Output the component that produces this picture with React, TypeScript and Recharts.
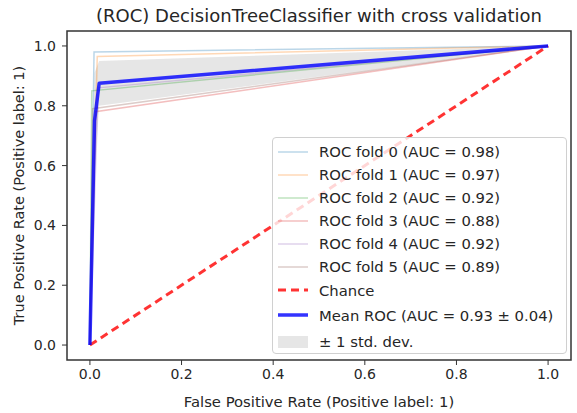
import React from 'react';
import { ComposedChart, Line, Area, XAxis, YAxis, ReferenceArea, Legend, Label } from 'recharts';

const FONT = '"DejaVu Sans", sans-serif';

const titleText = '(ROC) DecisionTreeClassifier with cross validation';
const xLabelText = 'False Positive Rate (Positive label: 1)';
const yLabelText = 'True Positive Rate (Positive label: 1)';
const xTicks = [0, 0.2, 0.4, 0.6, 0.8, 1.0];
const yTicks = [0, 0.2, 0.4, 0.6, 0.8, 1.0];

const foldNames = [
  'ROC fold 0 (AUC = 0.98)',
  'ROC fold 1 (AUC = 0.97)',
  'ROC fold 2 (AUC = 0.92)',
  'ROC fold 3 (AUC = 0.88)',
  'ROC fold 4 (AUC = 0.92)',
  'ROC fold 5 (AUC = 0.89)',
];
const foldColors = ['#1f77b4', '#ff7f0e', '#2ca02c', '#d62728', '#9467bd', '#8c564b'];
// knee point of each fold's ROC curve (fpr, tpr)
const foldFpr = [0.009, 0.016, 0.004, 0.012, 0.018, 0.006];
const foldTpr = [0.98, 0.965, 0.85, 0.78, 0.86, 0.79];

const chanceX = [0, 1];
const chanceY = [0, 1];

const meanFpr = [0, 0.0101, 0.0202, 1];
const meanTpr = [0, 0.75, 0.875, 1];
const bandLow = [0, 0.57, 0.80, 1];
const bandHigh = [0, 0.91, 0.95, 1];

const chanceName = 'Chance';
const meanName = 'Mean ROC (AUC = 0.93 \u00b1 0.04)';
const bandName = '\u00b1 1 std. dev.';

const foldData = foldFpr.map((f, i) => [
  { x: 0, y: 0 },
  { x: f, y: foldTpr[i] },
  { x: 1, y: 1 },
]);
const chanceData = chanceX.map((x, i) => ({ x, y: chanceY[i] }));
const meanData = meanFpr.map((x, i) => ({ x, y: meanTpr[i] }));
const bandData = meanFpr.map((x, i) => ({ x, band: [bandLow[i], bandHigh[i]] }));

const fmt = (v: number) => v.toFixed(1);

type Entry = { kind: 'line' | 'dash' | 'patch'; color: string; opacity: number; width: number; label: string };

const legendEntries: Entry[] = [
  ...foldNames.map((n, i) => ({ kind: 'line' as const, color: foldColors[i], opacity: 0.3, width: 1.5, label: n })),
  { kind: 'dash', color: '#ff0000', opacity: 0.8, width: 3, label: chanceName },
  { kind: 'line', color: '#0000ff', opacity: 0.8, width: 3.5, label: meanName },
  { kind: 'patch', color: '#808080', opacity: 0.2, width: 0, label: bandName },
];

const rowHeights = [23, 23, 23, 23, 23, 23, 24, 26, 27];

const renderLegend = () => (
  <div
    style={{
      width: 295,
      height: 217,
      boxSizing: 'border-box',
      border: '1px solid #d0d0d0',
      borderRadius: 4,
      background: 'rgba(255,255,255,0.8)',
      paddingTop: 2,
      fontFamily: FONT,
      fontSize: 14.8,
      color: '#262626',
    }}
  >
    {legendEntries.map((e, i) => (
      <div key={i} style={{ display: 'flex', alignItems: 'center', height: rowHeights[i] }}>
        <svg width={46} height={16} style={{ flex: 'none' }}>
          {e.kind === 'patch' ? (
            <rect x={5} y={2} width={30} height={12} fill={e.color} fillOpacity={e.opacity} />
          ) : (
            <line
              x1={5}
              x2={35}
              y1={8}
              y2={8}
              stroke={e.color}
              strokeOpacity={e.opacity}
              strokeWidth={e.width}
              strokeDasharray={e.kind === 'dash' ? '8 5' : undefined}
            />
          )}
        </svg>
        <span style={{ whiteSpace: 'nowrap' }}>{e.label}</span>
      </div>
    ))}
  </div>
);

const YLabel = (props: any) => {
  const vb = props.viewBox || {};
  const cy = vb.y + vb.height / 2;
  const cx = 19;
  return (
    <text
      x={cx}
      y={cy}
      transform={`rotate(-90, ${cx}, ${cy})`}
      textAnchor="middle"
      dominantBaseline="central"
      fontSize={14.5}
      fontFamily={FONT}
      fill="#262626"
    >
      {yLabelText}
    </text>
  );
};

export default function App() {
  return (
    <div style={{ position: 'absolute', left: 0, top: 0, width: 577, height: 413, background: '#fff', fontFamily: FONT }}>
      <div
        style={{
          position: 'absolute',
          left: 67,
          width: 504,
          top: 5,
          textAlign: 'center',
          fontSize: 18,
          color: '#262626',
          whiteSpace: 'nowrap',
        }}
      >
        {titleText}
      </div>
      <ComposedChart width={577} height={413} margin={{ top: 31, right: 6, bottom: 0, left: 0 }}>
        <XAxis
          dataKey="x"
          type="number"
          domain={[-0.05, 1.05]}
          ticks={xTicks}
          tickFormatter={fmt}
          allowDataOverflow
          height={53}
          axisLine={false}
          tickLine={{ stroke: '#333' }}
          tickSize={5}
          tickMargin={4}
          tick={{ fontSize: 14, fontFamily: FONT, fill: '#262626' }}
        >
          <Label value={xLabelText} position="insideBottom" offset={6} fontSize={14.8} fontFamily={FONT} fill="#262626" />
        </XAxis>
        <YAxis
          type="number"
          domain={[-0.05, 1.05]}
          ticks={yTicks}
          tickFormatter={fmt}
          allowDataOverflow
          width={67}
          axisLine={false}
          tickLine={{ stroke: '#333' }}
          tickSize={5}
          tickMargin={6}
          tick={{ fontSize: 14, fontFamily: FONT, fill: '#262626' }}
        >
          <Label content={<YLabel />} />
        </YAxis>
        {foldData.map((d, i) => (
          <Line
            key={i}
            data={d}
            dataKey="y"
            type="linear"
            stroke={foldColors[i]}
            strokeOpacity={0.3}
            strokeWidth={1.5}
            dot={false}
            activeDot={false}
            isAnimationActive={false}
          />
        ))}
        <Line
          data={chanceData}
          dataKey="y"
          type="linear"
          stroke="#ff0000"
          strokeOpacity={0.8}
          strokeWidth={3}
          strokeDasharray="8 5"
          dot={false}
          activeDot={false}
          isAnimationActive={false}
        />
        <Line
          data={meanData}
          dataKey="y"
          type="linear"
          stroke="#0000ff"
          strokeOpacity={0.8}
          strokeWidth={3.5}
          strokeLinejoin="round"
          dot={false}
          activeDot={false}
          isAnimationActive={false}
        />
        <Area
          data={bandData}
          dataKey="band"
          type="linear"
          stroke="none"
          fill="#808080"
          fillOpacity={0.2}
          dot={false}
          activeDot={false}
          isAnimationActive={false}
        />
        <ReferenceArea
          x1={-0.05}
          x2={1.05}
          y1={-0.05}
          y2={1.05}
          fill="none"
          stroke="#333"
          strokeWidth={1.5}
          ifOverflow="visible"
        />
        <Legend
          content={renderLegend}
          layout="horizontal"
          verticalAlign="middle"
          align="center"
          wrapperStyle={{ position: 'absolute', left: 272, top: 137, width: 295, height: 217 }}
        />
      </ComposedChart>
    </div>
  );
}
